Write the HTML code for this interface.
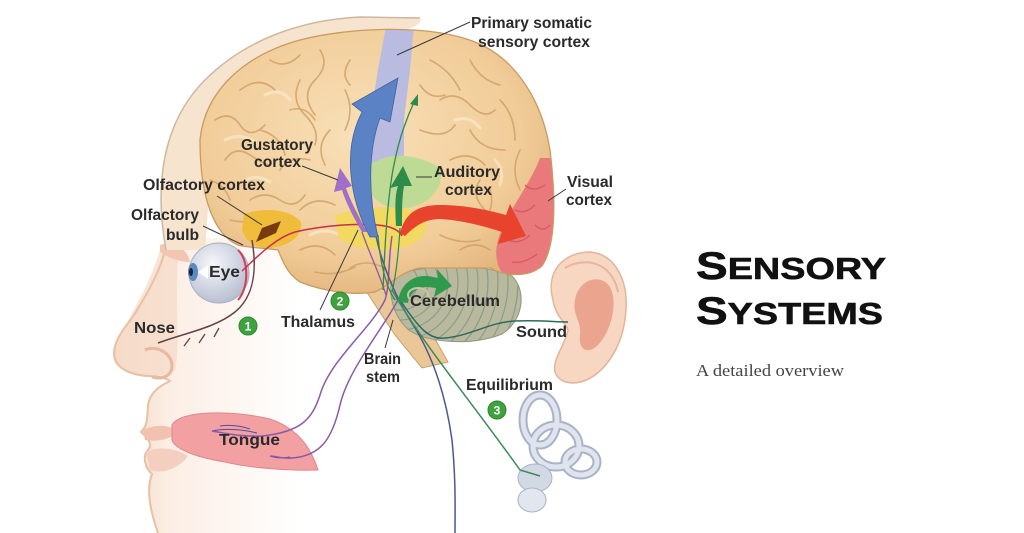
<!DOCTYPE html>
<html><head><meta charset="utf-8">
<style>
html,body{margin:0;padding:0;background:#fff;}
svg{display:block;}
.lb{font-family:"Liberation Sans",sans-serif;font-weight:bold;font-size:16px;fill:#2a2a2a;}
.num{font-family:"Liberation Sans",sans-serif;font-weight:bold;font-size:12px;fill:#fff;}
</style></head><body>
<svg width="1024" height="533" viewBox="0 0 1024 533" xmlns="http://www.w3.org/2000/svg">
<defs>
 <radialGradient id="brainG" cx="0.45" cy="0.4" r="0.65">
  <stop offset="0" stop-color="#f8e0b8"/>
  <stop offset="0.7" stop-color="#f1cc98"/>
  <stop offset="1" stop-color="#e2b37a"/>
 </radialGradient>
 <linearGradient id="faceG" x1="110" y1="0" x2="300" y2="0" gradientUnits="userSpaceOnUse">
  <stop offset="0" stop-color="#f2d0b8"/>
  <stop offset="0.3" stop-color="#fbeee4"/>
  <stop offset="1" stop-color="#ffffff"/>
 </linearGradient>
 <radialGradient id="eyeG" cx="0.4" cy="0.35" r="0.7">
  <stop offset="0" stop-color="#f6f7fb"/>
  <stop offset="1" stop-color="#b4bccf"/>
 </radialGradient>
 <clipPath id="brainClip"><path d="M 200,140 C 205,90 245,55 300,40 C 350,27 430,24 475,42 C 515,58 542,100 550,150 C 556,200 556,245 542,266 C 528,278 505,276 490,268 L 420,268 C 400,272 390,285 375,292 C 350,296 320,290 300,282 C 285,272 282,258 278,250 C 265,248 250,248 238,245 C 215,235 200,200 200,140 Z"/></clipPath>
 <clipPath id="cbClip"><path d="M 392,278 C 415,264 480,262 512,276 C 528,292 522,322 502,334 C 472,346 430,343 410,331 C 394,318 388,296 392,278 Z"/></clipPath>
</defs>

<rect width="1024" height="533" fill="#fff"/>

<!-- face -->
<path d="M 167,238 C 165,262 150,290 132,318 C 118,335 110,350 116,362 C 122,372 138,376 150,376 C 158,376 166,378 170,381 C 160,386 150,392 148,405 C 147,418 148,425 141,432 C 150,440 152,445 148,450 C 142,456 145,468 152,474 C 146,490 150,510 158,533 L 330,533 L 330,238 Z" fill="url(#faceG)"/>
<path d="M 160,250 C 150,285 130,315 118,340 C 112,355 118,370 135,374 C 150,378 165,376 175,370 C 180,350 175,300 178,260 Z" fill="#f6dccb" opacity="0.8"/>
<path d="M 167,238 C 165,262 150,290 132,318 C 118,335 110,350 116,362 C 122,372 138,376 150,376 C 158,376 166,378 170,381 C 160,386 150,392 148,405 C 147,418 148,425 141,432 C 150,440 152,445 148,450 C 142,456 145,468 152,474 C 146,490 150,510 158,533" fill="none" stroke="#e8c0a6" stroke-width="2"/>
<path d="M 145,350 C 155,345 172,352 172,366 C 172,376 162,380 152,377" fill="none" stroke="#e8b8a0" stroke-width="3"/>
<path d="M 160,245 C 175,240 188,250 190,262 C 180,262 168,258 160,252 Z" fill="#f3c6b4"/>
<!-- lips -->
<path d="M 143,430 C 155,424 170,424 178,432 C 170,440 155,442 145,440 Z" fill="#f2c2b0"/>
<path d="M 146,452 C 158,446 176,448 188,456 C 178,470 160,474 150,470 Z" fill="#f4cfc0"/>

<!-- skull band -->
<path d="M 166,250 C 155,190 160,125 205,80 C 245,40 300,20 360,17 L 418,17 C 424,19 420,26 405,30 L 300,45 L 215,115 L 205,250 Z" fill="#f6e4cf"/>
<path d="M 166,250 C 155,190 160,125 205,80 C 245,40 300,20 360,17 L 420,18" fill="none" stroke="#cfb79e" stroke-width="1.5"/>

<!-- brain stem -->
<path d="M 360,282 L 408,280 L 430,330 L 448,362 L 422,368 L 395,335 Z" fill="#ebc697" stroke="#c9a06e" stroke-width="1"/>

<!-- cerebellum -->
<path d="M 392,278 C 415,264 480,262 512,276 C 528,292 522,322 502,334 C 472,346 430,343 410,331 C 394,318 388,296 392,278 Z" fill="#b9b99e" stroke="#8e9680" stroke-width="1"/>
<g clip-path="url(#cbClip)" fill="none" stroke="#8c9c86" stroke-width="1.2">
 <circle cx="400" cy="282" r="18"/><circle cx="400" cy="282" r="28"/><circle cx="400" cy="282" r="38"/>
 <circle cx="400" cy="282" r="48"/><circle cx="400" cy="282" r="58"/><circle cx="400" cy="282" r="68"/>
 <circle cx="400" cy="282" r="78"/><circle cx="400" cy="282" r="88"/><circle cx="400" cy="282" r="98"/>
 <circle cx="400" cy="282" r="108"/><circle cx="400" cy="282" r="118"/>
</g>

<!-- brain -->
<path d="M 200,140 C 205,90 245,55 300,40 C 350,27 430,24 475,42 C 515,58 542,100 550,150 C 556,200 556,245 542,266 C 528,278 505,276 490,268 L 420,268 C 400,272 390,285 375,292 C 350,296 320,290 300,282 C 285,272 282,258 278,250 C 265,248 250,248 238,245 C 215,235 200,200 200,140 Z" fill="url(#brainG)"/>
<g clip-path="url(#brainClip)">
 <g fill="none" stroke="#d2a068" stroke-width="1.6" stroke-linecap="round" opacity="0.85">
  <path d="M215,120 q15,-10 25,5 t25,0"/>
  <path d="M225,160 q10,-15 25,-5 t20,10"/>
  <path d="M240,90 q20,-15 35,0"/>
  <path d="M270,60 q15,10 30,-5"/>
  <path d="M300,80 q-10,20 5,35 t10,30"/>
  <path d="M250,200 q15,-10 30,0 t25,-5"/>
  <path d="M260,130 q20,5 25,25"/>
  <path d="M320,50 q10,15 -5,30 t0,35"/>
  <path d="M230,220 q20,5 35,-5"/>
  <path d="M280,170 q10,-15 30,-10"/>
  <path d="M330,130 q-15,15 -5,35"/>
  <path d="M290,110 q15,-5 25,10"/>
  <path d="M345,90 q10,20 0,40"/>
  <path d="M210,180 q15,5 20,20"/>
  <path d="M300,210 q15,-15 35,-5"/>
  <path d="M350,60 q-10,15 0,25"/>
  <path d="M430,60 q20,10 30,30"/>
  <path d="M470,60 q10,20 30,25"/>
  <path d="M440,100 q15,-10 30,5 t25,5"/>
  <path d="M420,130 q25,10 35,-5"/>
  <path d="M470,130 q10,20 35,20"/>
  <path d="M500,100 q15,15 15,40"/>
  <path d="M450,160 q20,-10 35,5"/>
  <path d="M480,180 q-10,15 5,30"/>
  <path d="M520,150 q-10,20 0,40"/>
  <path d="M430,215 q20,-10 40,0"/>
  <path d="M460,250 q15,-10 30,0"/>
  <path d="M300,250 q20,-10 35,5"/>
  <path d="M315,272 q20,5 40,-5"/>
  <path d="M440,235 q20,10 40,5"/>
  <path d="M350,268 q15,-10 35,0"/>
  <path d="M420,85 q10,15 25,10"/>
  <path d="M485,220 q10,-15 5,-30"/>
 </g>
 <g fill="none" stroke="#fbe9cc" stroke-width="3" stroke-linecap="round" opacity="0.7">
  <path d="M225,140 q15,-8 30,2"/>
  <path d="M265,95 q15,-8 25,5"/>
  <path d="M455,120 q15,-5 25,8"/>
  <path d="M495,160 q10,10 5,25"/>
  <path d="M310,235 q15,-8 30,0"/>
  <path d="M245,180 q12,-6 25,2"/>
 </g>
 <polygon points="386,26 414,26 410,70 404,120 404,165 366,168 370,120 378,70" fill="#babbe0"/>
 <path d="M 370,165 C 390,150 420,155 440,168 C 445,185 432,205 405,208 C 385,210 372,200 366,185 Z" fill="#bedb96"/>
 <path d="M 335,215 C 360,206 400,204 425,214 C 432,230 420,246 395,249 C 370,251 345,246 338,236 Z" fill="#f3d862"/>
 <path d="M 244,214 C 265,207 290,209 301,222 C 303,236 290,246 270,248 C 255,248 245,241 242,230 Z" fill="#efbd3a"/>
 <path d="M 256,242 L 262,228 L 281,221 L 276,233 Z" fill="#7a3a10"/>
 <path d="M 540,158 C 530,185 505,215 498,240 C 494,255 497,268 505,276 C 520,282 535,276 545,266 C 560,245 560,200 552,158 Z" fill="#e9797b"/>
 <g fill="none" stroke="#d45a62" stroke-width="1.3">
  <path d="M515,210 q10,5 20,-5"/><path d="M508,240 q12,5 22,-5"/><path d="M525,185 q8,8 20,0"/><path d="M512,262 q12,2 25,-8"/><path d="M535,225 q8,8 15,0"/>
 </g>
</g>
<path d="M 200,140 C 205,90 245,55 300,40 C 350,27 430,24 475,42 C 515,58 542,100 550,150 C 556,200 556,245 542,266 C 528,278 505,276 490,268 L 420,268 C 400,272 390,285 375,292 C 350,296 320,290 300,282 C 285,272 282,258 278,250 C 265,248 250,248 238,245 C 215,235 200,200 200,140 Z" fill="none" stroke="#c99a62" stroke-width="1.3"/>

<!-- eye -->
<circle cx="219" cy="273" r="30" fill="url(#eyeG)" stroke="#a8b0c4" stroke-width="1"/>
<ellipse cx="193" cy="272" rx="5" ry="9" fill="#5a8ac2"/>
<ellipse cx="191" cy="272" rx="2" ry="4" fill="#223"/>
<polygon points="198,272 208,265 208,279" fill="#fff"/>
<path d="M 238,250 C 249,260 249,288 238,300" fill="none" stroke="#d0405a" stroke-width="2"/>

<!-- tongue -->
<path d="M 172,425 C 180,410 232,410 270,419 C 296,428 310,445 318,470 C 290,471 250,468 225,462 C 200,458 175,450 172,440 Z" fill="#f2a0a2" stroke="#e0868e" stroke-width="1"/>
<g fill="none" stroke="#5a4aa0" stroke-width="1">
 <path d="M 212,431 q20,-4 45,2"/><path d="M 220,426 q15,-2 30,3"/><path d="M 270,456 q8,3 20,1"/>
</g>

<!-- ear -->
<path d="M 553,300 C 545,270 565,252 590,252 C 615,254 628,280 626,310 C 624,340 612,362 595,375 C 580,386 560,386 555,372 C 552,360 565,345 568,330 C 565,322 555,315 553,300 Z" fill="#f7d6c2" stroke="#e2b49a" stroke-width="1.5"/>
<path d="M 575,300 C 578,280 600,272 610,287 C 618,302 612,330 598,345 C 588,355 578,350 580,335 C 582,322 572,315 575,300 Z" fill="#e9a088" opacity="0.9"/>
<path d="M 565,268 C 585,256 612,262 618,292" fill="none" stroke="#e6b59d" stroke-width="2"/>

<!-- inner ear -->
<g fill="none" stroke="#a9b2c6" stroke-width="9">
 <ellipse cx="540" cy="420" rx="17" ry="25"/>
 <ellipse cx="556" cy="446" rx="23" ry="21"/>
 <ellipse cx="581" cy="462" rx="16" ry="13"/>
</g>
<g fill="none" stroke="#dfe4ee" stroke-width="5">
 <ellipse cx="540" cy="420" rx="17" ry="25"/>
 <ellipse cx="556" cy="446" rx="23" ry="21"/>
 <ellipse cx="581" cy="462" rx="16" ry="13"/>
</g>
<ellipse cx="535" cy="478" rx="17" ry="14" fill="#d3d9e4" stroke="#a9b2c6"/>
<ellipse cx="532" cy="500" rx="14" ry="12" fill="#e2e6ee" stroke="#a9b2c6"/>

<!-- pathway lines -->
<path d="M 242,271 C 257,257 275,238 295,232 C 320,226 360,222 385,226 C 395,228 400,232 402,236" fill="none" stroke="#c8304a" stroke-width="1.5"/>
<path d="M 158,343 C 185,333 215,328 235,312 C 252,298 258,275 252,240" fill="none" stroke="#6a4048" stroke-width="1.5"/>
<g stroke="#6a4048" stroke-width="1.3"><path d="M190,338 l-6,8"/><path d="M205,334 l-6,9"/><path d="M219,328 l-5,9"/></g>
<path d="M 392,236 C 388,260 390,285 385,300 C 370,330 330,360 320,395 C 312,420 300,432 262,436 C 240,437 225,433 212,431" fill="none" stroke="#8a5aa8" stroke-width="1.5"/>
<path d="M 398,300 C 382,330 348,370 340,405 C 332,440 320,456 292,458 C 282,459 276,456 270,456" fill="none" stroke="#8a5aa8" stroke-width="1.5"/>
<path d="M 362,232 C 370,255 378,270 386,295" fill="none" stroke="#8a5aa8" stroke-width="1.3"/>
<path d="M 376,236 C 382,265 395,295 410,320 C 430,350 445,390 452,440 C 456,480 455,510 455,533" fill="none" stroke="#4a5890" stroke-width="1.5"/>
<path d="M 383,290 C 385,240 388,190 395,160 C 400,135 408,115 415,100" fill="none" stroke="#2e8a4a" stroke-width="1.3"/>
<polygon points="418,94 410,104 418,106" fill="#2e8a4a"/>
<path d="M 378,235 C 380,260 385,285 395,300" fill="none" stroke="#2e8a4a" stroke-width="1.2"/>
<path d="M 400,228 C 398,260 395,280 392,292" fill="none" stroke="#2e8a4a" stroke-width="1.2"/>
<path d="M 392,290 C 420,340 470,400 520,470 L 540,476" fill="none" stroke="#3a8a5a" stroke-width="1.5"/>
<path d="M 400,300 C 420,330 430,340 445,338 C 470,336 490,322 515,321 C 540,320 555,322 568,322" fill="none" stroke="#2d6a60" stroke-width="1.5"/>

<!-- arrows -->
<path d="M 370,237 C 350,200 342,150 362,112 L 352,104 L 398,78 L 390,122 L 380,118 C 368,150 368,195 378,237 Z" fill="#5b82c4" stroke="#3f62a0" stroke-width="0.8"/>
<path d="M 362,232 C 352,215 345,200 342,190 L 334,192 L 340,168 L 352,186 L 346,188 C 350,200 358,215 367,232 Z" fill="#a070c8"/>
<path d="M 396,226 C 395,205 395,195 398,186 L 390,188 L 403,166 L 412,186 L 404,186 C 402,198 402,210 402,226 Z" fill="#2e8b4a"/>
<path d="M 400,233 C 405,215 415,205 440,205 C 465,205 488,210 506,215 L 510,204 L 526,236 L 498,244 L 502,232 C 484,226 460,220 440,219 C 425,219 415,226 405,236 Z" fill="#e8432c"/>
<path d="M 398,302 C 400,285 412,275 428,276 L 438,278 L 437,269 L 452,286 L 434,297 L 436,288 L 428,287 C 418,287 410,292 408,303 Z" fill="#2f9a4c"/>
<ellipse cx="418" cy="295" rx="10" ry="7" fill="none" stroke="#c8c4a8" stroke-width="2"/>

<!-- leader lines -->
<g stroke="#3a3a3a" stroke-width="1" fill="none">
 <path d="M 397,55 L 470,22"/>
 <path d="M 302,166 L 338,180"/>
 <path d="M 217,196 L 262,225"/>
 <path d="M 203,226 L 243,245"/>
 <path d="M 416,177 L 432,177"/>
 <path d="M 548,201 L 566,189"/>
 <path d="M 320,310 L 358,230"/>
 <path d="M 385,348 L 393,320"/>
</g>

<!-- number circles -->
<circle cx="248" cy="326" r="9" fill="#3fa23f" stroke="#2c8a2c"/>
<text class="num" x="248" y="330.5" text-anchor="middle">1</text>
<circle cx="340" cy="301" r="9" fill="#3fa23f" stroke="#2c8a2c"/>
<text class="num" x="340" y="305.5" text-anchor="middle">2</text>
<circle cx="497" cy="410" r="9" fill="#3fa23f" stroke="#2c8a2c"/>
<text class="num" x="497" y="414.5" text-anchor="middle">3</text>

<!-- labels -->
<text class="lb" x="471" y="28" textLength="121" lengthAdjust="spacingAndGlyphs">Primary somatic</text>
<text class="lb" x="478" y="47" textLength="112" lengthAdjust="spacingAndGlyphs">sensory cortex</text>
<text class="lb" x="241" y="150" textLength="72" lengthAdjust="spacingAndGlyphs">Gustatory</text>
<text class="lb" x="254" y="167" textLength="47" lengthAdjust="spacingAndGlyphs">cortex</text>
<text class="lb" x="143" y="190" textLength="122" lengthAdjust="spacingAndGlyphs">Olfactory cortex</text>
<text class="lb" x="131" y="220" textLength="68" lengthAdjust="spacingAndGlyphs">Olfactory</text>
<text class="lb" x="166" y="240" textLength="33" lengthAdjust="spacingAndGlyphs">bulb</text>
<text class="lb" x="434" y="177" textLength="66" lengthAdjust="spacingAndGlyphs">Auditory</text>
<text class="lb" x="445" y="195" textLength="47" lengthAdjust="spacingAndGlyphs">cortex</text>
<text class="lb" x="567" y="187" textLength="46" lengthAdjust="spacingAndGlyphs">Visual</text>
<text class="lb" x="566" y="205" textLength="46" lengthAdjust="spacingAndGlyphs">cortex</text>
<text class="lb" x="209" y="277" textLength="31" lengthAdjust="spacingAndGlyphs">Eye</text>
<text class="lb" x="134" y="333" textLength="41" lengthAdjust="spacingAndGlyphs">Nose</text>
<text class="lb" x="281" y="327" textLength="74" lengthAdjust="spacingAndGlyphs">Thalamus</text>
<text class="lb" x="410" y="306" textLength="90" lengthAdjust="spacingAndGlyphs">Cerebellum</text>
<text class="lb" x="516" y="337" textLength="51" lengthAdjust="spacingAndGlyphs">Sound</text>
<text class="lb" x="364" y="364" textLength="37" lengthAdjust="spacingAndGlyphs">Brain</text>
<text class="lb" x="366" y="382" textLength="34" lengthAdjust="spacingAndGlyphs">stem</text>
<text class="lb" x="466" y="390" textLength="87" lengthAdjust="spacingAndGlyphs">Equilibrium</text>
<text class="lb" x="219" y="445" textLength="61" lengthAdjust="spacingAndGlyphs">Tongue</text>

<!-- title -->
<text x="696" y="279" textLength="190" lengthAdjust="spacingAndGlyphs" font-family="Liberation Sans, sans-serif" font-weight="bold" fill="#111" stroke="#111" stroke-width="0.6"><tspan font-size="39">S</tspan><tspan font-size="31">ENSORY</tspan></text>
<text x="696" y="324" textLength="187" lengthAdjust="spacingAndGlyphs" font-family="Liberation Sans, sans-serif" font-weight="bold" fill="#111" stroke="#111" stroke-width="0.6"><tspan font-size="39">S</tspan><tspan font-size="31">YSTEMS</tspan></text>
<text x="696" y="376" textLength="148" lengthAdjust="spacingAndGlyphs" font-family="Liberation Serif, serif" font-size="17" fill="#444">A detailed overview</text>
</svg>
</body></html>
